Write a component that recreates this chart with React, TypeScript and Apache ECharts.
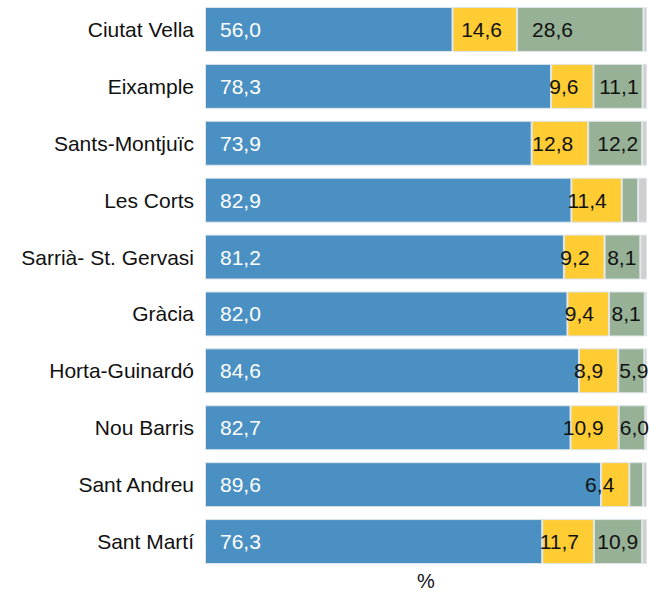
import React, { useEffect, useRef } from "react";
import * as echarts from "echarts";

const categories = [
  "Ciutat Vella",
  "Eixample",
  "Sants-Montjuïc",
  "Les Corts",
  "Sarrià- St. Gervasi",
  "Gràcia",
  "Horta-Guinardó",
  "Nou Barris",
  "Sant Andreu",
  "Sant Martí",
];
const blueValues = [56.0, 78.3, 73.9, 82.9, 81.2, 82.0, 84.6, 82.7, 89.6, 76.3];
const yellowValues = [14.6, 9.6, 12.8, 11.4, 9.2, 9.4, 8.9, 10.9, 6.4, 11.7];
const greenValues = [28.6, 11.1, 12.2, 3.7, 8.1, 8.1, 5.9, 6.0, 3.1, 10.9];
const grayValues = [0.8, 1.0, 1.1, 2.0, 1.5, 0.5, 0.6, 0.4, 0.9, 1.1];
const hiddenGreenLabels = [false, false, false, true, false, false, false, false, true, false];
const xAxisName = "%";

const fmt = (v: number) => v.toFixed(1).replace(".", ",");
const FONT = "'Liberation Sans', Arial, sans-serif";
const FS = 21;

export default function App() {
  const ref = useRef<HTMLDivElement>(null);
  useEffect(() => {
    document.body.style.margin = "0";
    if (!ref.current) return;
    const chart = echarts.init(ref.current, undefined, { renderer: "svg" });
    const border = { borderColor: "#dfe5ea", borderWidth: 1 };
    const greenData = greenValues.map((v, i) => {
      let label: any;
      if (hiddenGreenLabels[i]) label = { show: false };
      else if (v > 20) label = { position: "insideLeft", distance: 15 };
      else if (v < 7) label = { position: "insideLeft", distance: 1 };
      else label = { position: "insideRight", distance: 4 };
      return { value: v, label };
    });
    chart.setOption({
      animation: false,
      grid: {
        left: 205,
        width: 442,
        top: 1,
        height: 569,
        containLabel: false,
        outerBoundsMode: "none",
      },
      xAxis: {
        type: "value",
        min: 0,
        max: 100,
        name: xAxisName,
        nameLocation: "middle",
        nameGap: 4,
        nameTextStyle: { color: "#111", fontSize: 20, lineHeight: 14, fontFamily: FONT },
        axisLabel: { show: false },
        axisLine: { show: false },
        axisTick: { show: false },
        splitLine: { show: false },
      },
      yAxis: {
        type: "category",
        data: categories,
        inverse: true,
        axisLine: { show: false },
        axisTick: { show: false },
        axisLabel: { color: "#111", fontSize: FS, fontFamily: FONT, margin: 11 },
      },
      series: [
        {
          type: "bar",
          stack: "t",
          barCategoryGap: "21%",
          data: blueValues,
          itemStyle: { color: "#4a90c2", ...border },
          label: {
            show: true,
            position: "insideLeft",
            distance: 15,
            color: "#fff",
            fontSize: FS,
            fontFamily: FONT,
            formatter: (p: any) => fmt(p.value),
          },
        },
        {
          type: "bar",
          stack: "t",
          data: yellowValues,
          itemStyle: { color: "#ffcc33", ...border },
          label: {
            show: true,
            position: "insideRight",
            distance: 15,
            color: "#111",
            fontSize: FS,
            fontFamily: FONT,
            formatter: (p: any) => fmt(p.value),
          },
        },
        {
          type: "bar",
          stack: "t",
          data: greenData,
          itemStyle: { color: "#96b196", ...border },
          label: {
            show: true,
            color: "#111",
            fontSize: FS,
            fontFamily: FONT,
            formatter: (p: any) => fmt(p.value),
          },
        },
        {
          type: "bar",
          stack: "t",
          data: grayValues,
          itemStyle: { color: "#cfcfcf", ...border },
          label: { show: false },
        },
      ],
    });
    return () => chart.dispose();
  }, []);
  return <div ref={ref} style={{ width: 649, height: 593 }} />;
}
